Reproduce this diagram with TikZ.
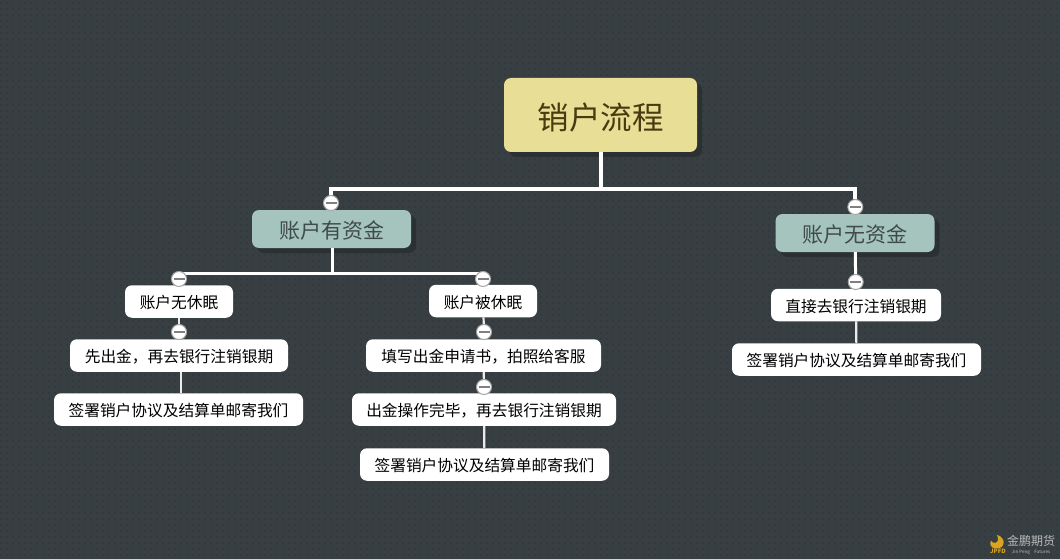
\documentclass[tikz,border=0pt]{standalone}
\usepackage{fontspec}
\usetikzlibrary{backgrounds,shadows}
\setmainfont{Noto Sans CJK SC}
\pgfdeclarelayer{front}
\definecolor{bgc}{HTML}{383F43}
\definecolor{dotc}{HTML}{33393D}
\definecolor{shc}{HTML}{2B3033}
\definecolor{rootc}{HTML}{E8DE96}
\definecolor{subc}{HTML}{A5C4BD}
\definecolor{roottx}{HTML}{4A3A10}
\definecolor{subtx}{HTML}{3F4A4A}
\definecolor{gold}{HTML}{D9A520}
\definecolor{wmtx}{HTML}{B8BABA}
\tikzset{
  x=1pt,y=-1pt,
  boxbase/.style={rounded corners=7pt,inner sep=0pt,anchor=center,text depth=0pt},
  boxshadow/.style={drop shadow={shadow xshift=5pt,shadow yshift=-5pt,fill=shc,opacity=1}},
  rootbox/.style={boxbase,boxshadow,fill=rootc,text=roottx,minimum width=193pt,minimum height=74pt,text height=29pt,font=\fontsize{31.5}{36}\selectfont},
  mainbox/.style={boxbase,boxshadow,fill=subc,text=subtx,minimum width=159pt,minimum height=38pt,text height=19.5pt,font=\fontsize{21}{24}\selectfont},
  leafbox/.style={boxbase,fill=white,text=black,minimum height=32.5pt,text height=14pt,font=\fontsize{15.7}{18}\selectfont},
  minusnode/.style={circle,fill=white,draw=gray!70,line width=1pt,minimum size=15pt,inner sep=0pt,
     path picture={\draw[gray,line width=1.4pt] ([xshift=-5.5pt]path picture bounding box.center) -- ([xshift=5.5pt]path picture bounding box.center);}},
  trunk/.style={draw=white,line width=4pt,line join=miter},
  branch/.style={draw=white,line width=3pt,line join=miter},
  twig/.style={draw=white!92!black,line width=2.2pt}
}
\begin{document}
\pgfsetlayers{background,main,front}
\begin{tikzpicture}
\useasboundingbox (0,0) rectangle (1060,559);
\begin{scope}[on background layer]
\fill[bgc] (0,0) rectangle (1060,559);
\foreach \r in {3,9,...,557}{
  \draw[dotc,line width=2pt,dash pattern=on 2pt off 4pt] (0,\r) -- (1060,\r);
}
\end{scope}
% nodes
\node[rootbox] (root) at (600.5,115) {销户流程};
\node[mainbox] (a) at (331.5,229) {账户有资金};
\node[mainbox] (b) at (855,233) {账户无资金};
\node[leafbox,minimum width=108pt] (a1) at (179,301.5) {账户无休眠};
\node[leafbox,minimum width=108pt] (a2) at (483,301) {账户被休眠};
\node[leafbox,minimum width=218pt] (a11) at (179,355.5) {先出金，再去银行注销银期};
\node[leafbox,minimum width=249pt] (a12) at (178.5,409.5) {签署销户协议及结算单邮寄我们};
\node[leafbox,minimum width=235pt] (a21) at (483.5,355.5) {填写出金申请书，拍照给客服};
\node[leafbox,minimum width=264pt] (a22) at (484,409.5) {出金操作完毕，再去银行注销银期};
\node[leafbox,minimum width=249pt] (a23) at (484.5,464.5) {签署销户协议及结算单邮寄我们};
\node[leafbox,minimum width=170pt] (b1) at (856,305) {直接去银行注销银期};
\node[leafbox,minimum width=249pt] (b2) at (856.5,359.5) {签署销户协议及结算单邮寄我们};
% collapse buttons
\begin{pgfonlayer}{front}
\node[minusnode] (ma) at (331,203) {};
\node[minusnode] (mb) at (855.3,207) {};
\node[minusnode] (ma1) at (179,279) {};
\node[minusnode] (ma2) at (483,279) {};
\node[minusnode] (ma11) at (179,332) {};
\node[minusnode] (ma21) at (484,332) {};
\node[minusnode] (ma22) at (484,387) {};
\node[minusnode] (mb1) at (855.7,282) {};
\end{pgfonlayer}
% junctions
\coordinate (busroot) at (600.5,188.5);
\coordinate (busa) at (332.5,273.5);
% connectors
\draw[trunk] (root) -- (busroot) -| (ma);
\draw[trunk] (busroot) -| (mb);
\draw[branch] (a.south -| busa) -- (busa);
\draw[branch,line width=2.6pt] (busa) -| (ma1);
\draw[branch,line width=2.6pt] (busa) -| (ma2);
\draw[branch] (b) -- (mb1);
\draw[twig] (a1) -- (ma11);
\draw[twig] (ma11) -- (a11);
\draw[twig] ([xshift=2pt]a11.south) -- ([xshift=2.5pt]a12.north);
\draw[twig] (a2) -- (ma21);
\draw[twig] (ma21) -- (a21);
\draw[twig] (a21) -- (ma22);
\draw[twig] (ma22) -- (a22);
\draw[twig] (a22) -- (a23);
\draw[twig] (b1) -- (b2);
\draw[twig] (b1) -- (mb1);
% watermark
\fill[gold] (997,535) .. controls (1006,537) and (1006,549) .. (996,548.5)
   .. controls (991,548.5) and (989,544) .. (991,540.5)
   .. controls (992,544) and (1001,545) .. (997,535) -- cycle;
\node[inner sep=0pt,text=gold,font=\bfseries\fontsize{6}{6}\selectfont] (wlogo) at (998,551.5) {JPFD};
\node[inner sep=0pt,text=wmtx,font=\fontsize{12}{12}\selectfont] (wcn) at (1031,541) {金鹏期货};
\node[inner sep=0pt,text=wmtx,font=\fontsize{4.5}{5}\selectfont] (wen) at (1031,552) {Jin Peng\quad Futures};
\end{tikzpicture}
\end{document}
